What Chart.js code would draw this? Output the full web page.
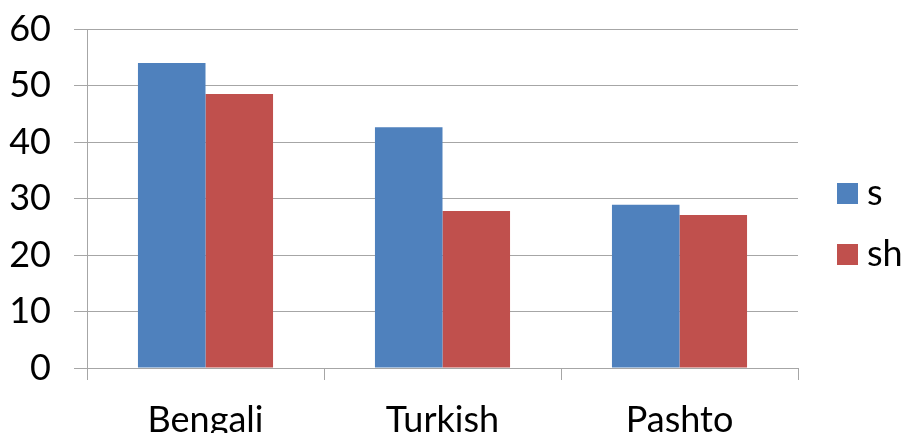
<!DOCTYPE html>
<html>
<head>
<meta charset="utf-8">
<script src="https://cdn.jsdelivr.net/npm/chart.js@4.4.1/dist/chart.umd.min.js"></script>
<style>
  html, body { margin: 0; padding: 0; background: #ffffff; }
  #wrap { width: 906px; height: 433px; }
</style>
</head>
<body>
<div id="wrap"><canvas id="chart" width="906" height="433"></canvas></div>
<script>
// Categories and series values
const categories = ['Bengali', 'Turkish', 'Pashto'];
const seriesNames = ['s', 'sh'];
const valuesS = [54, 42.6, 28.9];
const valuesSh = [48.5, 27.8, 27.1];
const yTicks = [0, 10, 20, 30, 40, 50, 60];

const BLUE = '#4F81BD';
const RED = '#C0504D';
const GRID = '#a6a6a6';
const FONT = 'Lato, "DejaVu Sans", sans-serif';

// Legend drawn to the right of the plot: a square swatch and label per series
const sideLegend = {
  id: 'sideLegend',
  afterDraw(chart) {
    const ctx = chart.ctx;
    const area = chart.chartArea;
    const x0 = area.right + 39;
    const tops = [area.top + 154, area.top + 215];
    ctx.save();
    ctx.font = '36px ' + FONT;
    ctx.textBaseline = 'alphabetic';
    ctx.textAlign = 'left';
    chart.data.datasets.forEach((ds, i) => {
      ctx.fillStyle = ds.backgroundColor;
      ctx.fillRect(x0, tops[i], 21, 21);
      ctx.fillStyle = '#000000';
      ctx.fillText(ds.label, x0 + 30, tops[i] + 22);
    });
    ctx.restore();
  }
};

new Chart(document.getElementById('chart'), {
  type: 'bar',
  data: {
    labels: categories,
    datasets: [
      { label: seriesNames[0], data: valuesS, backgroundColor: BLUE },
      { label: seriesNames[1], data: valuesSh, backgroundColor: RED }
    ]
  },
  options: {
    responsive: false,
    animation: false,
    devicePixelRatio: 1,
    layout: { padding: { top: 29, right: 108, bottom: 0, left: 0 } },
    datasets: { bar: { categoryPercentage: 0.57, barPercentage: 1.0, borderWidth: 0 } },
    plugins: {
      legend: { display: false },
      tooltip: { enabled: false }
    },
    scales: {
      x: {
        grid: {
          offset: true,
          drawOnChartArea: false,
          drawTicks: true,
          tickLength: 12,
          color: GRID,
          lineWidth: 1
        },
        border: { display: false },
        ticks: {
          color: '#000000',
          font: { family: FONT, size: 36 },
          padding: 19,
          maxRotation: 0
        },
        afterFit(scale) {
          scale.height = 65;
          scale.paddingLeft = 0;
          scale.paddingRight = 0;
        }
      },
      y: {
        min: 0,
        max: 60,
        afterBuildTicks(scale) { scale.ticks = yTicks.map(v => ({ value: v })); },
        grid: {
          color: GRID,
          lineWidth: 1,
          drawTicks: true,
          tickLength: 13
        },
        border: { display: true, color: GRID, width: 1 },
        ticks: {
          color: '#000000',
          font: { family: FONT, size: 36 },
          padding: 23
        },
        afterFit(scale) {
          scale.width = 87;
          scale.paddingTop = 0;
          scale.paddingBottom = 0;
        }
      }
    }
  },
  plugins: [sideLegend]
});
</script>
</body>
</html>
